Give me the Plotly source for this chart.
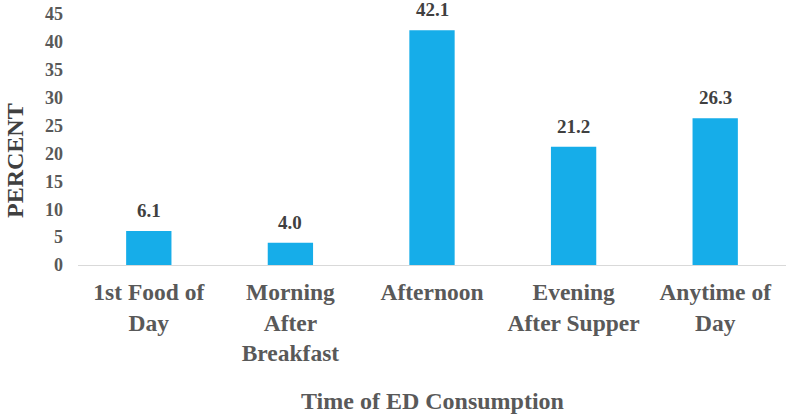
import plotly.graph_objects as go

categories = ["1st Food of<br>Day", "Morning<br>After<br>Breakfast", "Afternoon",
              "Evening<br>After Supper", "Anytime of<br>Day"]
percent = [6.1, 4.0, 42.1, 21.2, 26.3]
y_ticks = [0, 5, 10, 15, 20, 25, 30, 35, 40, 45]

FONT = "Liberation Serif, Times New Roman, serif"

fig = go.Figure(go.Bar(
    x=categories, y=percent,
    marker=dict(color="#16ADE9", line=dict(width=0)),
    cliponaxis=False,
))

for c, v in zip(categories, percent):
    fig.add_annotation(
        x=c, y=v, text="<b>%.1f</b>" % v, showarrow=False,
        xanchor="center", yanchor="bottom", yshift=8,
        font=dict(family=FONT, size=19, color="#404040"),
    )

fig.update_layout(
    width=787, height=414,
    margin=dict(l=78, r=1, t=14, b=149),
    paper_bgcolor="white", plot_bgcolor="white",
    bargap=0.68,
    showlegend=False,
    font=dict(family=FONT),
)
fig.update_xaxes(
    showline=True, linecolor="#D9D9D9", linewidth=1,
    showgrid=False, ticks="",
    tickvals=categories, ticktext=["<b>%s</b>" % c for c in categories],
    tickfont=dict(family=FONT, size=23.5, color="#595959"),
    ticklabelstandoff=6,
)
fig.update_yaxes(
    range=[0, 45.01], tickvals=y_ticks, ticktext=["<b>%d</b>" % v for v in y_ticks],
    showline=False, showgrid=False, zeroline=False, ticks="",
    tickfont=dict(family=FONT, size=18, color="#595959"),
    ticklabelstandoff=14,
)
fig.add_annotation(
    text="<b>PERCENT</b>", textangle=-90, xref="paper", yref="paper",
    x=-78/708, xanchor="left", y=(265-161)/251, yanchor="middle",
    showarrow=False, font=dict(family=FONT, size=24, color="#404040"),
)
fig.add_annotation(
    text="<b>Time of ED Consumption</b>", xref="paper", yref="paper",
    x=(432-78)/708, xanchor="center", y=-(401-265)/251, yanchor="middle",
    showarrow=False, font=dict(family=FONT, size=24, color="#595959"),
)
fig.write_html("out.html", config={"displayModeBar": False},
               post_script="document.body.style.margin='0px';")
